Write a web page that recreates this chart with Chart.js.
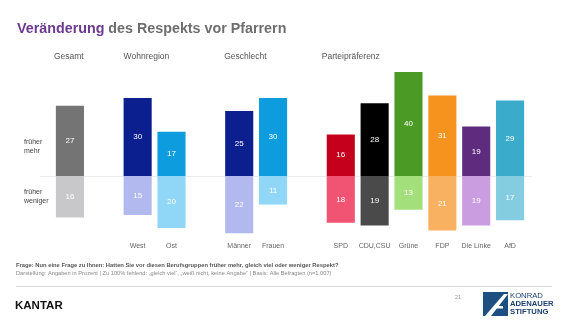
<!DOCTYPE html>
<html>
<head>
<meta charset="utf-8">
<script src="https://cdn.jsdelivr.net/npm/chart.js@4/dist/chart.umd.min.js"></script>
<style>
  html, body { margin: 0; padding: 0; background: #fff; }
  canvas { display: block; }
</style>
</head>
<body>
<canvas id="chart" width="570" height="321"></canvas>
<script>
const FONT = "'Liberation Sans', Arial, sans-serif";

// slots: empty strings are gaps between groups
const categories = ['Gesamt', '', 'West', 'Ost', '', 'Männer', 'Frauen', '', 'SPD', 'CDU,CSU', 'Grüne', 'FDP', 'Die Linke', 'AfD'];
const frueherMehr = [27, null, 30, 17, null, 25, 30, null, 16, 28, 40, 31, 19, 29];
const frueherWeniger = [16, null, 15, 20, null, 22, 11, null, 18, 19, 13, 21, 19, 17];

const colorsMehr = ['#747474', null, '#0c1f8e', '#0d9ddf', null, '#0c1f8e', '#0d9ddf', null,
  '#c5001d', '#000000', '#4a9a25', '#f6921e', '#5f2b7f', '#3aabcb'];
const colorsWeniger = ['#c8c8ca', null, '#b2b9ef', '#8fd6f7', null, '#b2b9ef', '#8fd6f7', null,
  '#f15372', '#4a4a4a', '#a3e07c', '#f8b061', '#c99ddf', '#84cde1'];

// group headings, anchored at the first slot of each group
const groups = [
  { label: 'Gesamt', slot: 0, dx: -2 },
  { label: 'Wohnregion', slot: 2, dx: 0 },
  { label: 'Geschlecht', slot: 5, dx: -1 },
  { label: 'Parteipräferenz', slot: 8, dx: -5 },
];

const rowLabels = [
  { lines: ['früher', 'mehr'], value: 11.5 },
  { lines: ['früher', 'weniger'], value: -7.8 },
];

const decor = {
  id: 'decor',
  beforeDatasetsDraw(chart) {
    const { ctx } = chart;
    const y0 = Math.round(chart.scales.y.getPixelForValue(0)) + 0.5;
    ctx.save();
    ctx.strokeStyle = '#ececec';
    ctx.lineWidth = 1;
    ctx.beginPath();
    ctx.moveTo(40, y0);
    ctx.lineTo(532, y0);
    ctx.stroke();
    ctx.restore();
  },
  afterDatasetsDraw(chart) {
    const { ctx } = chart;
    ctx.save();
    ctx.fillStyle = '#fff';
    ctx.font = `8px ${FONT}`;
    ctx.textAlign = 'center';
    ctx.textBaseline = 'middle';
    chart.data.datasets.forEach((ds, i) => {
      chart.getDatasetMeta(i).data.forEach((bar, j) => {
        if (ds.data[j] == null) return;
        ctx.fillText(Math.abs(ds.data[j]), bar.x, (bar.y + bar.base) / 2);
      });
    });
    ctx.restore();
  },
  afterDraw(chart) {
    const { ctx } = chart;
    const x = chart.scales.x, y = chart.scales.y;
    const half = x.width / categories.length * 0.83 / 2;
    ctx.save();

    // title
    ctx.textBaseline = 'alphabetic';
    ctx.textAlign = 'left';
    ctx.font = `bold 14.3px ${FONT}`;
    ctx.fillStyle = '#6b3a8e';
    ctx.fillText('Veränderung', 17, 33);
    let w = ctx.measureText('Veränderung ').width;
    ctx.fillStyle = '#6e6e6e';
    ctx.fillText('des Respekts vor Pfarrern', 17 + w, 33);

    // group headings
    ctx.font = `8.5px ${FONT}`;
    ctx.fillStyle = '#555';
    ctx.textBaseline = 'middle';
    for (const g of groups) {
      ctx.fillText(g.label, x.getPixelForValue(g.slot) - half + g.dx, 57);
    }

    // row labels
    ctx.font = `7px ${FONT}`;
    ctx.fillStyle = '#444';
    for (const r of rowLabels) {
      const py = y.getPixelForValue(r.value);
      ctx.fillText(r.lines[0], 24, py - 4);
      ctx.fillText(r.lines[1], 24, py + 4.5);
    }

    // footnotes
    ctx.font = `bold 5.8px ${FONT}`;
    ctx.fillStyle = '#555';
    ctx.fillText('Frage: Nun eine Frage zu Ihnen: Hatten Sie vor diesen Berufsgruppen früher mehr, gleich viel oder weniger Respekt?', 16, 265);
    ctx.font = `5.7px ${FONT}`;
    ctx.fillStyle = '#888';
    ctx.fillText('Darstellung: Angaben in Prozent | Zu 100% fehlend: „gleich viel“, „weiß nicht, keine Angabe“ | Basis: Alle Befragten (n=1.007)', 16, 273);

    ctx.strokeStyle = '#d6d6d6';
    ctx.lineWidth = 1;
    ctx.beginPath();
    ctx.moveTo(16, 286.5);
    ctx.lineTo(552, 286.5);
    ctx.stroke();

    // KANTAR
    ctx.font = `bold 11.5px ${FONT}`;
    ctx.fillStyle = '#111';
    ctx.textBaseline = 'alphabetic';
    ctx.fillText('KANTAR', 15, 308.5);

    // page number
    ctx.font = `5.5px ${FONT}`;
    ctx.fillStyle = '#999';
    ctx.textBaseline = 'middle';
    ctx.fillText('21', 455, 297);

    // KAS logo
    ctx.fillStyle = '#1f4f80';
    ctx.fillRect(483, 292, 25, 24);
    ctx.fillStyle = '#fff';
    ctx.beginPath();
    ctx.moveTo(504, 294);
    ctx.lineTo(508, 294);
    ctx.lineTo(491, 316);
    ctx.lineTo(485, 316);
    ctx.closePath();
    ctx.fill();
    ctx.fillRect(494, 306, 9, 2.5);
    ctx.fillStyle = '#1c3f6e';
    ctx.textBaseline = 'middle';
    ctx.font = `7.7px ${FONT}`;
    ctx.fillText('KONRAD', 510, 296);
    ctx.font = `bold 7.7px ${FONT}`;
    ctx.fillText('ADENAUER', 510, 304);
    ctx.fillText('STIFTUNG', 510, 312);

    ctx.restore();
  }
};

new Chart(document.getElementById('chart'), {
  type: 'bar',
  data: {
    labels: categories,
    datasets: [
      { label: 'früher mehr', data: frueherMehr, backgroundColor: colorsMehr },
      { label: 'früher weniger', data: frueherWeniger.map(v => v == null ? null : -v), backgroundColor: colorsWeniger },
    ],
  },
  options: {
    responsive: false,
    animation: false,
    events: [],
    barPercentage: 0.83,
    categoryPercentage: 1,
    layout: { padding: { left: 53, right: 43, top: 59, bottom: 68 } },
    plugins: { legend: { display: false }, tooltip: { enabled: false } },
    scales: {
      x: {
        stacked: true,
        grid: { display: false, drawTicks: false },
        border: { display: false },
        ticks: {
          padding: 1,
          color: '#666',
          font: { family: FONT, size: 7 },
          maxRotation: 0,
          autoSkip: false,
          callback: (v, i) => i === 0 ? '' : categories[i],
        },
        afterFit: (scale) => { scale.height = 12; },
      },
      y: { stacked: true, display: false, min: -25, max: 45 },
    },
  },
  plugins: [decor],
});
</script>
</body>
</html>
